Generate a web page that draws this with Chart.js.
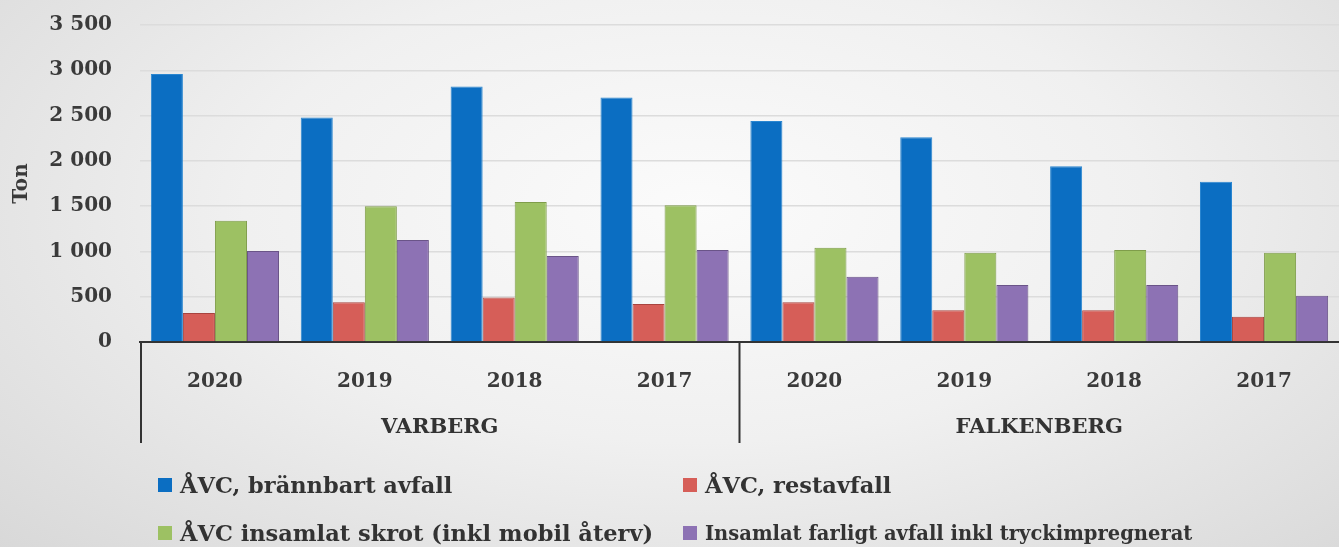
<!DOCTYPE html>
<html>
<head>
<meta charset="utf-8">
<script src="https://cdn.jsdelivr.net/npm/chart.js@4.4.1/dist/chart.umd.min.js"></script>
<style>
  html, body { margin: 0; padding: 0; }
  body {
    width: 1339px; height: 547px; overflow: hidden; position: relative;
    background: radial-gradient(ellipse 75% 95% at 52% 38%, #fbfbfb 0%, #f0f0f0 45%, #d6d6d6 100%);
  }
  #wrap { position: absolute; left: 0; top: 0; width: 1339px; height: 547px; }
  #legend {
    position: absolute; left: 158px; top: 473px;
    display: grid; grid-template-columns: 525px 620px; row-gap: 24px;
    font-family: "DejaVu Serif", serif; font-weight: bold;
    font-size: 22.5px; color: #333;
  }
  #legend .item { display: flex; align-items: center; height: 24px; white-space: nowrap; }
  #legend .box { width: 14px; height: 14px; margin-right: 8px; flex: none; }
</style>
</head>
<body>
<div id="wrap"><canvas id="chart" width="1339" height="547"></canvas></div>
<div id="legend"></div>
<script>
var categories = ['2020', '2019', '2018', '2017', '2020', '2019', '2018', '2017'];
var groups = ['VARBERG', 'FALKENBERG'];
var groupSize = 4;

var brannbart = [2960, 2480, 2820, 2700, 2440, 2260, 1940, 1770];
var restavfall = [320, 440, 490, 420, 440, 350, 350, 280];
var skrot = [1340, 1500, 1545, 1510, 1040, 985, 1015, 985];
var farligt = [1005, 1125, 950, 1015, 720, 630, 630, 510];

var seriesNames = ['ÅVC, brännbart avfall', 'ÅVC, restavfall', 'ÅVC insamlat skrot (inkl mobil återv)', 'Insamlat farligt avfall inkl tryckimpregnerat'];
var yTicks = [0, 500, 1000, 1500, 2000, 2500, 3000, 3500];

var fontFam = '"DejaVu Serif", serif';

// group labels + separator lines under the x axis
var groupAxis = {
    id: 'groupAxis',
    afterDraw: function(chart) {
        var ctx = chart.ctx;
        var x = chart.scales.x;
        var area = chart.chartArea;
        var lineBottom = area.bottom + 101;
        ctx.save();
        ctx.strokeStyle = '#333';
        ctx.lineWidth = 2;
        ctx.fillStyle = '#333';
        ctx.font = 'bold 21px ' + fontFam;
        ctx.textAlign = 'center';
        ctx.textBaseline = 'middle';
        groups.forEach(function(g, i) {
            var first = i * groupSize, last = first + groupSize - 1;
            var left = first === 0 ? area.left + 1 : (x.getPixelForValue(first - 1) + x.getPixelForValue(first)) / 2;
            ctx.beginPath();
            ctx.moveTo(left, area.bottom);
            ctx.lineTo(left, lineBottom);
            ctx.stroke();
            var cx = (x.getPixelForValue(first) + x.getPixelForValue(last)) / 2;
            ctx.fillText(g, cx, area.bottom + 86);
        });
        ctx.restore();
    }
};

var ctxB = document.getElementById('chart').getContext('2d');
var myBarChart = new Chart(ctxB, {
    type: 'bar',
    data: {
        labels: categories,
        datasets: [{
            label: seriesNames[0],
            data: brannbart,
            backgroundColor: '#0b6ec2',
            borderColor: '#2a86d0',
            borderWidth: 1
        }, {
            label: seriesNames[1],
            data: restavfall,
            backgroundColor: '#d65e58',
            borderColor: '#a8443f',
            borderWidth: 1
        }, {
            label: seriesNames[2],
            data: skrot,
            backgroundColor: '#9dc163',
            borderColor: '#7f9d4a',
            borderWidth: 1
        }, {
            label: seriesNames[3],
            data: farligt,
            backgroundColor: '#8d72b4',
            borderColor: '#6a5488',
            borderWidth: 1
        }]
    },
    options: {
        responsive: false,
        animation: false,
        layout: { padding: { top: 25, right: 0, bottom: 0, left: 0 } },
        datasets: { bar: { categoryPercentage: 0.855, barPercentage: 1 } },
        plugins: {
            legend: { display: false },
            tooltip: { enabled: false }
        },
        scales: {
            x: {
                grid: { display: false, drawTicks: false },
                border: { display: true, color: '#333', width: 2 },
                ticks: {
                    padding: 28,
                    color: '#3a3a3a',
                    font: { family: fontFam, weight: 'bold', size: 20 }
                },
                afterFit: function(scale) { scale.height = 205; }
            },
            y: {
                min: 0,
                max: 3500,
                afterBuildTicks: function(scale) {
                    scale.ticks = yTicks.map(function(v) { return { value: v }; });
                },
                grid: { color: '#dcdcdc', lineWidth: 1.5, drawTicks: true, tickLength: 26, tickColor: 'rgba(0,0,0,0)' },
                border: { display: false },
                ticks: {
                    padding: 2,
                    color: '#3a3a3a',
                    font: { family: fontFam, weight: 'bold', size: 20 },
                    callback: function(v) {
                        return String(v).replace(/\B(?=(\d{3})+(?!\d))/g, ' ');
                    }
                },
                title: {
                    display: true,
                    text: 'Ton',
                    color: '#3a3a3a',
                    padding: { top: 10, bottom: 0 },
                    font: { family: fontFam, weight: 'bold', size: 20 }
                },
                afterFit: function(scale) { scale.width = 140; }
            }
        }
    },
    plugins: [groupAxis]
});

// legend, built from the chart's datasets
var legendEl = document.getElementById('legend');
myBarChart.data.datasets.forEach(function(ds, i) {
    var item = document.createElement('div');
    item.className = 'item';
    var box = document.createElement('span');
    box.className = 'box';
    box.style.background = ds.backgroundColor;
    var txt = document.createElement('span');
    txt.textContent = ds.label;
    if (i === 3) { txt.style.fontSize = '19.5px'; }
    item.appendChild(box);
    item.appendChild(txt);
    legendEl.appendChild(item);
});
</script>
</body>
</html>
